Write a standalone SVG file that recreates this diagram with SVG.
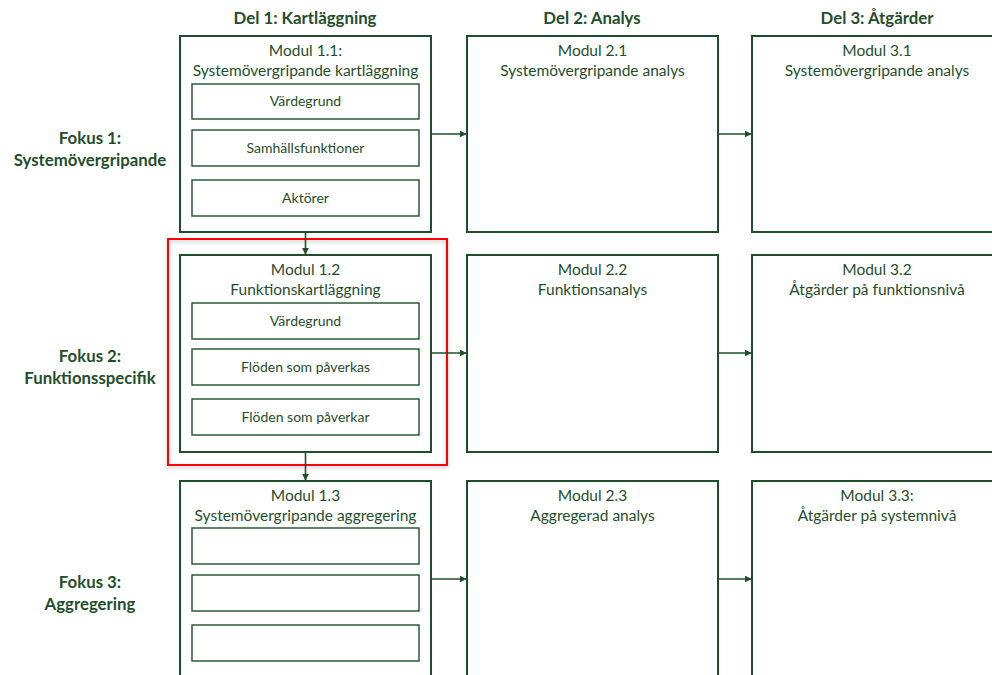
<svg xmlns="http://www.w3.org/2000/svg" width="992" height="675" viewBox="0 0 992 675">
  <style>
    .box { fill: #ffffff; stroke: #1f4e2c; stroke-width: 2; }
    .sub { fill: #ffffff; stroke: #1f4e2c; stroke-width: 1.4; }
    .t { font-family: Lato, "Open Sans", sans-serif; fill: #1f4e2c; text-anchor: middle; }
    .title { font-size: 15.5px; }
    .item { font-size: 14px; }
    .head { font-size: 16.8px; font-weight: bold; }
    .conn { stroke: #1f4e2c; stroke-width: 1.6; fill: none; marker-end: url(#arrow); }
    .hl { fill: none; stroke: #ff0000; stroke-width: 2; }
  </style>
  <defs>
    <marker id="arrow" viewBox="0 0 10 10" refX="9" refY="5" markerWidth="7" markerHeight="7" orient="auto" markerUnits="userSpaceOnUse">
      <path d="M0,0 L10,5 L0,10 z" fill="#1f4e2c"/>
    </marker>
    <filter id="shadow" x="-5%" y="-5%" width="110%" height="115%">
      <feDropShadow dx="0" dy="2" stdDeviation="2" flood-color="#000000" flood-opacity="0.25"/>
    </filter>
  </defs>
  <rect width="992" height="675" fill="#ffffff"/>

  <!-- column headings -->
  <g id="headings">
    <text class="t head" x="305" y="24">Del 1: Kartläggning</text>
    <text class="t head" x="592" y="24">Del 2: Analys</text>
    <text class="t head" x="877" y="24">Del 3: Åtgärder</text>
  </g>

  <!-- row labels -->
  <g id="fokus1">
    <text class="t head" x="90" y="144">Fokus 1:</text>
    <text class="t head" x="90" y="166">Systemövergripande</text>
  </g>
  <g id="fokus2">
    <text class="t head" x="90" y="362">Fokus 2:</text>
    <text class="t head" x="90" y="384">Funktionsspecifik</text>
  </g>
  <g id="fokus3">
    <text class="t head" x="90" y="588">Fokus 3:</text>
    <text class="t head" x="90" y="610">Aggregering</text>
  </g>

  <!-- highlight frame around module 1.2 -->
  <rect class="hl" x="168" y="239" width="279" height="226" filter="url(#shadow)"/>

  <!-- row 1 -->
  <g id="modul-1-1">
    <rect class="box" x="180" y="36" width="251" height="196"/>
    <text class="t title" x="305.5" y="56">Modul 1.1:</text>
    <text class="t title" x="305.5" y="76">Systemövergripande kartläggning</text>
    <rect class="sub" x="192" y="84" width="227" height="35"/>
    <text class="t item" x="305.5" y="106">Värdegrund</text>
    <rect class="sub" x="192" y="130" width="227" height="36"/>
    <text class="t item" x="305.5" y="153">Samhällsfunktioner</text>
    <rect class="sub" x="192" y="180" width="227" height="36"/>
    <text class="t item" x="305.5" y="203">Aktörer</text>
  </g>
  <g id="modul-2-1">
    <rect class="box" x="467" y="36" width="251" height="196"/>
    <text class="t title" x="592.5" y="56">Modul 2.1</text>
    <text class="t title" x="592.5" y="76">Systemövergripande analys</text>
  </g>
  <g id="modul-3-1">
    <rect class="box" x="752" y="36" width="250" height="196"/>
    <text class="t title" x="877" y="56">Modul 3.1</text>
    <text class="t title" x="877" y="76">Systemövergripande analys</text>
  </g>

  <!-- row 2 -->
  <g id="modul-1-2">
    <rect class="box" x="180" y="255" width="251" height="197"/>
    <text class="t title" x="305.5" y="275">Modul 1.2</text>
    <text class="t title" x="305.5" y="295">Funktionskartläggning</text>
    <rect class="sub" x="192" y="303" width="227" height="36"/>
    <text class="t item" x="305.5" y="326">Värdegrund</text>
    <rect class="sub" x="192" y="349" width="227" height="36"/>
    <text class="t item" x="305.5" y="372">Flöden som påverkas</text>
    <rect class="sub" x="192" y="399" width="227" height="36"/>
    <text class="t item" x="305.5" y="422">Flöden som påverkar</text>
  </g>
  <g id="modul-2-2">
    <rect class="box" x="467" y="255" width="251" height="197"/>
    <text class="t title" x="592.5" y="275">Modul 2.2</text>
    <text class="t title" x="592.5" y="295">Funktionsanalys</text>
  </g>
  <g id="modul-3-2">
    <rect class="box" x="752" y="255" width="250" height="197"/>
    <text class="t title" x="877" y="275">Modul 3.2</text>
    <text class="t title" x="877" y="295">Åtgärder på funktionsnivå</text>
  </g>

  <!-- row 3 -->
  <g id="modul-1-3">
    <rect class="box" x="180" y="481" width="251" height="210"/>
    <text class="t title" x="305.5" y="501">Modul 1.3</text>
    <text class="t title" x="305.5" y="521">Systemövergripande aggregering</text>
    <rect class="sub" x="192" y="528" width="227" height="36"/>
    <rect class="sub" x="192" y="575" width="227" height="36"/>
    <rect class="sub" x="192" y="625" width="227" height="36"/>
  </g>
  <g id="modul-2-3">
    <rect class="box" x="467" y="481" width="251" height="210"/>
    <text class="t title" x="592.5" y="501">Modul 2.3</text>
    <text class="t title" x="592.5" y="521">Aggregerad analys</text>
  </g>
  <g id="modul-3-3">
    <rect class="box" x="752" y="481" width="250" height="210"/>
    <text class="t title" x="877" y="501">Modul 3.3:</text>
    <text class="t title" x="877" y="521">Åtgärder på systemnivå</text>
  </g>

  <!-- connectors -->
  <g id="connectors">
    <line class="conn" x1="431" y1="134" x2="466" y2="134"/>
    <line class="conn" x1="718" y1="134" x2="751" y2="134"/>
    <line class="conn" x1="431" y1="353" x2="466" y2="353"/>
    <line class="conn" x1="718" y1="353" x2="751" y2="353"/>
    <line class="conn" x1="431" y1="579" x2="466" y2="579"/>
    <line class="conn" x1="718" y1="579" x2="751" y2="579"/>
    <line class="conn" x1="305.5" y1="232" x2="305.5" y2="254"/>
    <line class="conn" x1="305.5" y1="452" x2="305.5" y2="480"/>
  </g>
</svg>
